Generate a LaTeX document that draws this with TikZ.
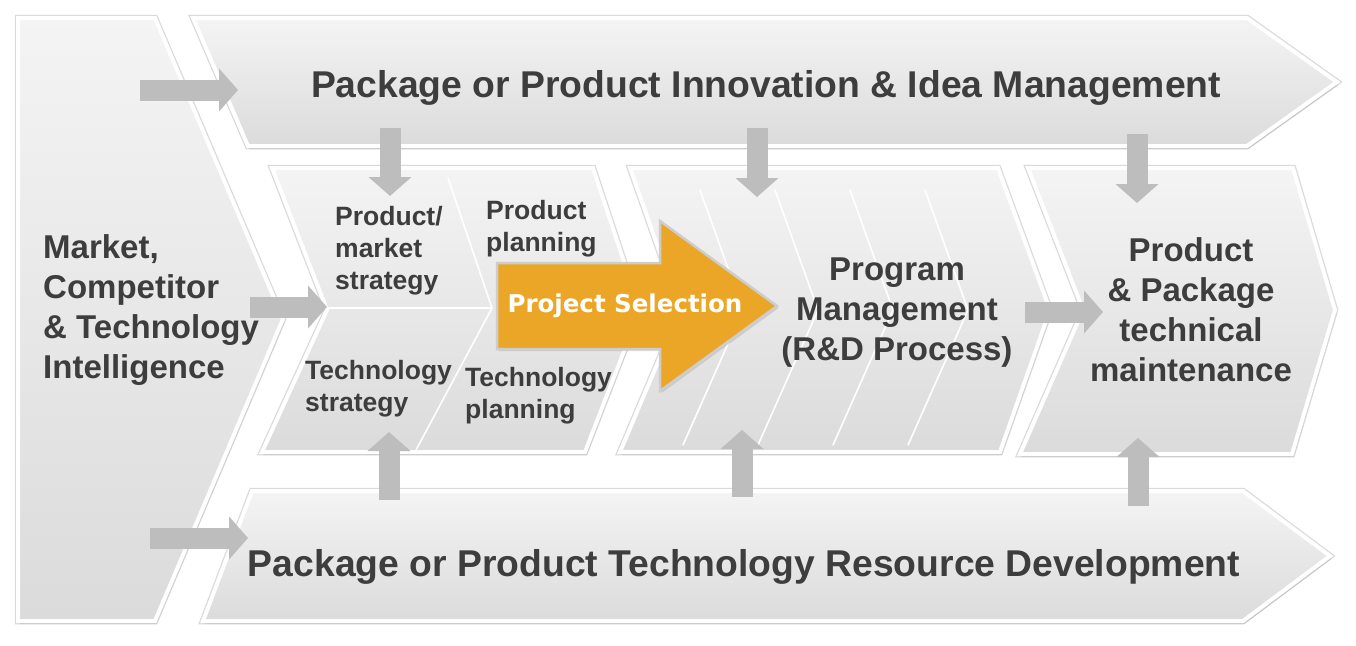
\documentclass[tikz,border=0pt]{standalone}
\usepackage{fontspec}
\setmainfont{Liberation Sans}
\newfontfamily\selfont{DejaVu Sans}
\usetikzlibrary{arrows.meta,shadows}
\definecolor{bg}{HTML}{FFFFFF}
\definecolor{paneltop}{HTML}{F4F4F4}
\definecolor{panelbot}{HTML}{DBDBDB}
\definecolor{ink}{HTML}{3D3D3D}
\definecolor{flowgray}{HTML}{BDBDBD}
\definecolor{gold}{HTML}{EBA627}
\definecolor{rim}{HTML}{CDCDCD}
\definecolor{edge}{HTML}{DADADA}
\tikzset{
  panel/.style={preaction={draw=edge, line width=6.5pt}, draw=white, line width=4pt,
    top color=paneltop, bottom color=panelbot,
    drop shadow={opacity=0.22, shadow xshift=1.5pt, shadow yshift=-3pt}},
  stripe/.style={draw=white, line width=1.6pt, line cap=round},
  flow/.style={draw=flowgray, line width=21pt, -{Triangle[width=42pt,length=19pt]}},
  sel/.style={fill=gold, draw=rim, line width=2.5pt,
    drop shadow={opacity=0.25, shadow xshift=1.5pt, shadow yshift=-2pt}},
  title/.style={text=ink, font=\bfseries\fontsize{37.3}{44}\selectfont, inner sep=0pt},
  lab/.style={text=ink, font=\bfseries\fontsize{33}{40}\selectfont, align=center, inner sep=0pt},
  labs/.style={text=ink, font=\bfseries\fontsize{26.5}{32}\selectfont, align=left, anchor=west, inner sep=0pt},
  labsel/.style={text=white, font=\selfont\bfseries\fontsize{24.5}{30}\selectfont, inner sep=0pt}
}
\begin{document}
\begin{tikzpicture}[x=1pt,y=-1pt]
  \useasboundingbox[fill=bg] (0,0) rectangle (1356,645);

  % side panel and the two long bands
  \path[panel] (18,18) -- (155,18) -- (283,319) -- (155,621) -- (18,621) -- cycle;
  \path[panel] (193,18) -- (1247,18) -- (1337,82) -- (1247,146) -- (248,146) -- cycle;
  \path[panel] (252,491) -- (1243,491) -- (1330,556) -- (1243,621) -- (203,621) -- cycle;

  % middle row
  \path[panel] (272,168) -- (593,168) -- (640,310) -- (585,452) -- (262,452) -- (327,310) -- cycle;
  \path[panel] (630,168) -- (998,168) -- (1050,310) -- (1000,452) -- (620,452) -- (680,310) -- cycle;
  \path[panel] (1028,168) -- (1293,168) -- (1335,310) -- (1292,454) -- (1020,454) -- (1083,310) -- cycle;

  \draw[stripe] (448,178) -- (492,308) -- (416,450);
  \draw[stripe] (327,308) -- (492,308);
  \foreach \d in {0,75,150,225}
    \draw[stripe] (700+\d,190) -- (743+\d,310) -- (683+\d,445);

  % connector ends
  \coordinate (mkt-a) at (140,90);    \coordinate (idea-w) at (238,90);
  \coordinate (mkt-b) at (250,307);   \coordinate (plan-w) at (327,307);
  \coordinate (mkt-c) at (150,538);   \coordinate (res-w) at (248,538);
  \coordinate (idea-s1) at (390,128); \coordinate (plan-n) at (390,196);
  \coordinate (idea-s2) at (757,128); \coordinate (rnd-n) at (757,197);
  \coordinate (idea-s3) at (1137,134);\coordinate (maint-n) at (1137,203);
  \coordinate (res-n1) at (389,500);  \coordinate (plan-s) at (389,432);
  \coordinate (res-n2) at (742,497);  \coordinate (rnd-s) at (742,430);
  \coordinate (res-n3) at (1138,506); \coordinate (maint-s) at (1138,438);
  \coordinate (rnd-e) at (1025,312);  \coordinate (maint-w) at (1103,312);

  \draw[flow] (mkt-a) -- (idea-w);
  \draw[flow] (mkt-b) -- (plan-w);
  \draw[flow] (mkt-c) -- (res-w);
  \draw[flow] (idea-s1) -- (plan-n);
  \draw[flow] (idea-s2) -- (rnd-n);
  \draw[flow] (idea-s3) -- (maint-n);
  \draw[flow] (res-n1) -- (plan-s);
  \draw[flow] (res-n2) -- (rnd-s);
  \draw[flow] (res-n3) -- (maint-s);
  \draw[flow] (rnd-e) -- (maint-w);

  % project selection
  \path[sel] (497,263) -- (660,263) -- (660,221) -- (777,306) -- (660,391) -- (660,349) -- (497,349) -- cycle;

  \node[title] (idea) at (766,88) {Package or Product Innovation \& Idea Management};
  \node[title] (res) at (744,567) {Package or Product Technology Resource Development};
  \node[lab, align=left, anchor=west] (mkt) at (43,310) {Market,\\Competitor\\\& Technology\\Intelligence};
  \node[lab] (rnd) at (897,313) {Program\\Management\\(R\&D Process)};
  \node[lab] (maint) at (1191,310) {Product\\\& Package\\technical\\maintenance};
  \node[labs] (pms) at (335,251) {Product/\\market\\strategy};
  \node[labs] (pp) at (486,229) {Product\\planning};
  \node[labs] (ts) at (305,389) {Technology\\strategy};
  \node[labs] (tp) at (465,396) {Technology\\planning};
  \node[labsel] (sel) at (625,306) {Project Selection};
\end{tikzpicture}
\end{document}
